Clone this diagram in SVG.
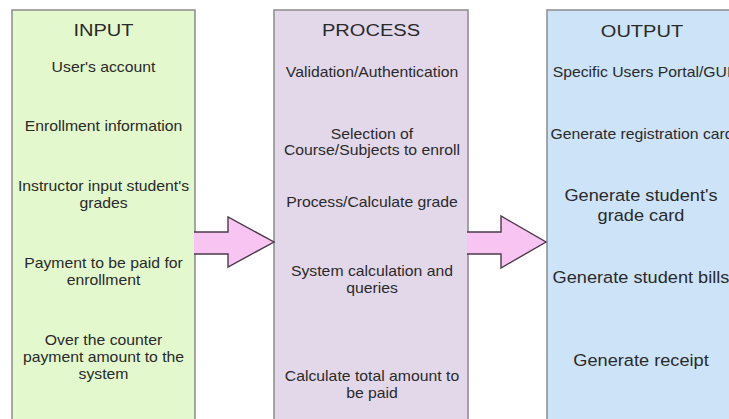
<svg xmlns="http://www.w3.org/2000/svg" width="729" height="419" viewBox="0 0 729 419">
  <style>
    .box { stroke: #8c8c8c; stroke-width: 1.5; }
    .in { fill: #e3f8cd; }
    .proc { fill: #e3d8ea; }
    .out { fill: #cde3f8; }
    text { font-family: "Liberation Sans", Arial, sans-serif; fill: #2a2a2a; text-anchor: middle; }
    .title { font-size: 17px; }
    .item { font-size: 14.2px; }
    .big { font-size: 17px; }
    .arrow { fill: #f8c4f1; stroke: #4b3a4b; stroke-width: 1.4; stroke-linejoin: miter; }
  </style>

  <rect width="729" height="419" fill="#ffffff"/>

  <!-- INPUT column -->
  <g id="input">
    <rect class="box in" x="12" y="10" width="183" height="420"/>
    <g transform="translate(103.5 0) scale(1.18 1)">
      <text class="title" x="0" y="36">INPUT</text>
    </g>
    <g transform="translate(103.5 0) scale(1.11 1)">
      <text class="item" x="0" y="72.5">User's account</text>
      <text class="item" x="0" y="131">Enrollment information</text>
      <text class="item" x="0" y="191">Instructor input student's</text>
      <text class="item" x="0" y="208">grades</text>
      <text class="item" x="0" y="268">Payment to be paid for</text>
      <text class="item" x="0" y="285">enrollment</text>
      <text class="item" x="0" y="345.5">Over the counter</text>
      <text class="item" x="0" y="362.5">payment amount to the</text>
      <text class="item" x="0" y="379">system</text>
    </g>
  </g>

  <!-- PROCESS column -->
  <g id="process">
    <rect class="box proc" x="274" y="10" width="194" height="420"/>
    <g transform="translate(371 0) scale(1.18 1)">
      <text class="title" x="0" y="36">PROCESS</text>
    </g>
    <g transform="translate(372 0) scale(1.11 1)">
      <text class="item" x="0" y="77">Validation/Authentication</text>
      <text class="item" x="0" y="139">Selection of</text>
      <text class="item" x="0" y="155.5">Course/Subjects to enroll</text>
      <text class="item" x="0" y="207">Process/Calculate grade</text>
      <text class="item" x="0" y="276.5">System calculation and</text>
      <text class="item" x="0" y="293">queries</text>
      <text class="item" x="0" y="381">Calculate total amount to</text>
      <text class="item" x="0" y="398">be paid</text>
    </g>
  </g>

  <!-- OUTPUT column -->
  <g id="output">
    <rect class="box out" x="547" y="10" width="194" height="420"/>
    <g transform="translate(642 0) scale(1.18 1)">
      <text class="title" x="0" y="37">OUTPUT</text>
    </g>
    <g transform="translate(642 0) scale(1.11 1)">
      <text class="item" x="0" y="77">Specific Users Portal/GUI</text>
      <text class="item" x="0" y="139">Generate registration card</text>
    </g>
    <g transform="translate(641 0) scale(1.07 1)">
      <text class="big" x="0" y="201.5">Generate student's</text>
      <text class="big" x="0" y="221">grade card</text>
      <text class="big" x="0" y="283.5">Generate student bills</text>
      <text class="big" x="0" y="366.5">Generate receipt</text>
    </g>
  </g>

  <!-- block arrows between columns -->
  <g id="connectors">
    <path class="arrow" d="M194 232 H228 V217 L274 242 L228 267 V254 H194"/>
    <path class="arrow" d="M467 232 H501 V216 L546 242 L501 268 V254 H467"/>
  </g>
</svg>
